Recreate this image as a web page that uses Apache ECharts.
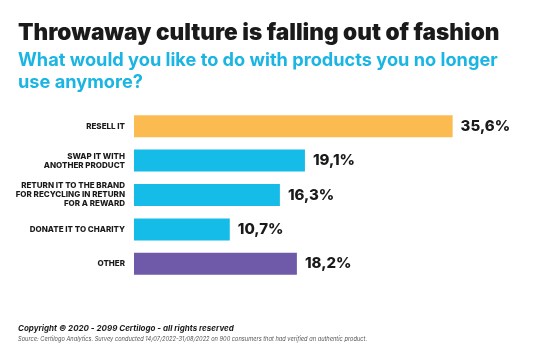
<!DOCTYPE html>
<html><head><meta charset="utf-8">
<script src="https://cdn.jsdelivr.net/npm/echarts@6/dist/echarts.min.js"></script>
<style>html,body{margin:0;padding:0;background:#fff}#c{width:533px;height:356px}</style>
</head><body><div id="c"></div>
<script>
const categories = ["RESELL IT", "SWAP IT WITH\nANOTHER PRODUCT", "RETURN IT TO THE BRAND\nFOR RECYCLING IN RETURN\nFOR A REWARD", "DONATE IT TO CHARITY", "OTHER"];
const values = [35.6, 19.1, 16.3, 10.7, 18.2];
const barColors = ["#fcbb50", "#15bce8", "#15bce8", "#15bce8", "#6e5aa9"];
const titleText = "Throwaway culture is falling out of fashion";
const subtitleText = "What would you like to do with products you no longer\nuse anymore?";
const copyrightText = "Copyright © 2020 - 2099 Certilogo - all rights reserved";
const sourceText = "Source: Certilogo Analytics. Survey conducted 14/07/2022-31/08/2022 on 900 consumers that had verified an authentic product.";

const chart = echarts.init(document.getElementById('c'), null, {renderer: 'canvas'});
const F = 'Inter, "Noto Sans", sans-serif';
chart.setOption({
  animation: false,
  backgroundColor: '#fff',
  title: [
    {text: titleText, left: 13, top: 17, padding: 5, textStyle: {fontFamily: F, fontWeight: 900, fontSize: 22.6, color: '#1a1a1a'}},
    {text: subtitleText, left: 13, top: 44, padding: 5, textStyle: {fontFamily: F, fontWeight: 700, fontSize: 18.2, lineHeight: 22.5, color: '#1ab5e3'}},
    {text: copyrightText, left: 13, top: 320, padding: 5, textStyle: {fontFamily: F, fontWeight: 700, fontStyle: 'italic', fontSize: 8, color: '#1a1a1a'}},
    {text: sourceText, left: 13, top: 331, padding: 5, textStyle: {fontFamily: F, fontWeight: 400, fontStyle: 'italic', fontSize: 5.7, color: '#555'}}
  ],
  grid: {left: 134, right: 41, top: 109, bottom: 75, containLabel: false},
  xAxis: {type: 'value', min: 0, max: 40, show: false},
  yAxis: {
    type: 'category', data: categories, inverse: true,
    axisLine: {show: false}, axisTick: {show: false}, splitLine: {show: false},
    axisLabel: {margin: 9, fontFamily: F, fontWeight: 800, fontSize: 8, lineHeight: 9, color: '#1a1a1a', align: 'right'}
  },
  series: [{
    type: 'bar', barWidth: 22,
    data: values.map((v, i) => ({value: v, itemStyle: {color: barColors[i]}})),
    label: {show: true, position: 'right', distance: 8, fontFamily: F, fontWeight: 800, fontSize: 15, color: '#1a1a1a',
      formatter: p => p.value.toFixed(1).replace('.', ',') + '%'}
  }]
});
</script></body></html>
